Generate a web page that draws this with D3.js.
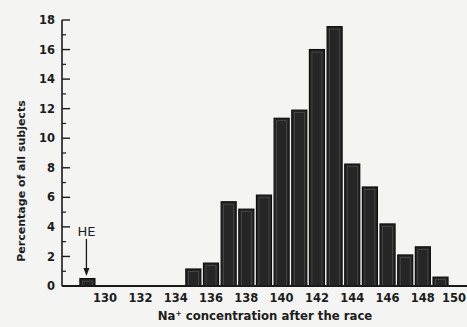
<!DOCTYPE html>
<html><head><meta charset="utf-8">
<script src="https://cdn.jsdelivr.net/npm/d3@7/dist/d3.min.js"></script>
<style>
html,body{margin:0;padding:0;background:#f4f4f2;}
svg{display:block;}
text{font-family:"DejaVu Sans",sans-serif;fill:#1c1c1c;}
</style></head>
<body>
<svg id="c" width="467" height="327"></svg>
<script>
const categories = [129,135,136,137,138,139,140,141,142,143,144,145,146,147,148,149];
const percentages = [0.5,1.15,1.55,5.7,5.2,6.15,11.35,11.9,16.0,17.55,8.25,6.7,4.2,2.1,2.65,0.6];
const xTickLabels = [130,132,134,136,138,140,142,144,146,148,150];
const yTickLabels = [0,2,4,6,8,10,12,14,16,18];
const yMinorTicks = [1,3,5,7,9,11,13,15,17];

const svg = d3.select("#c");
const x = d3.scaleLinear().domain([127.56,150.5]).range([62,467]);
const y = d3.scaleLinear().domain([0,18]).range([286,20]);
const bw = 0.85;

// bars
svg.append("g").selectAll("rect").data(categories).join("rect")
  .attr("x", (d)=>x(d-bw/2))
  .attr("width", (d)=>x(d+bw/2)-x(d-bw/2))
  .attr("y", (d,i)=>y(percentages[i]))
  .attr("height", (d,i)=>y(0)-y(percentages[i]))
  .attr("fill","#262626")
  .attr("stroke","#0e0e0e")
  .attr("stroke-width",1.2);
// inner light outline
svg.append("g").selectAll("rect").data(categories).join("rect")
  .attr("x", (d)=>x(d-bw/2)+2.5)
  .attr("width", (d)=>Math.max(0,x(d+bw/2)-x(d-bw/2)-5))
  .attr("y", (d,i)=>y(percentages[i])+2.5)
  .attr("height", (d,i)=>Math.max(0,y(0)-y(percentages[i])-3))
  .attr("fill","none")
  .attr("stroke","#555")
  .attr("stroke-width",0.6);

// y axis
const yAxis = svg.append("g");
yAxis.append("line").attr("x1",62).attr("x2",62).attr("y1",y(18)).attr("y2",y(0))
  .attr("stroke","#1a1a1a").attr("stroke-width",1.6);
yAxis.selectAll("line.maj").data(yTickLabels).join("line").attr("class","maj")
  .attr("x1",62).attr("x2",70).attr("y1",d=>y(d)).attr("y2",d=>y(d))
  .attr("stroke","#1a1a1a").attr("stroke-width",1.4);
yAxis.selectAll("line.min").data(yMinorTicks).join("line").attr("class","min")
  .attr("x1",62).attr("x2",66).attr("y1",d=>y(d)).attr("y2",d=>y(d))
  .attr("stroke","#1a1a1a").attr("stroke-width",1.2);
yAxis.selectAll("text").data(yTickLabels).join("text")
  .attr("x",55).attr("y",d=>y(d)).attr("dy","0.36em")
  .attr("text-anchor","end").attr("font-size",11.5).attr("font-weight",700)
  .text(d=>d);

// x axis
svg.append("line").attr("x1",62).attr("x2",467).attr("y1",y(0)).attr("y2",y(0))
  .attr("stroke","#1a1a1a").attr("stroke-width",1.8);
const last = xTickLabels[xTickLabels.length-1];
svg.append("g").selectAll("text").data(xTickLabels).join("text")
  .attr("x",d=>d===last ? 466 : x(d)).attr("y",302)
  .attr("text-anchor",d=>d===last ? "end" : "middle")
  .attr("font-size",11.5).attr("font-weight",700)
  .text(d=>d);

// axis titles
svg.append("text").attr("x",265).attr("y",320).attr("text-anchor","middle")
  .attr("font-size",11.7).attr("font-weight",700)
  .html('Na<tspan font-size="7.5" dy="-4">+</tspan><tspan dy="4"> concentration after the race</tspan>');
svg.append("text").attr("transform","translate(25,181) rotate(-90)")
  .attr("text-anchor","middle").attr("font-size",11).attr("font-weight",700)
  .text("Percentage of all subjects");

// HE annotation
svg.append("text").attr("x",x(129)-1).attr("y",231).attr("dy","0.36em")
  .attr("text-anchor","middle").attr("font-size",13).text("HE");
svg.append("line").attr("x1",x(129)-1).attr("x2",x(129)-1).attr("y1",239).attr("y2",270)
  .attr("stroke","#1a1a1a").attr("stroke-width",1.3);
svg.append("path").attr("d",`M${x(129)-4},268 L${x(129)+2},268 L${x(129)-1},276 Z`).attr("fill","#1a1a1a");
</script>
</body></html>
